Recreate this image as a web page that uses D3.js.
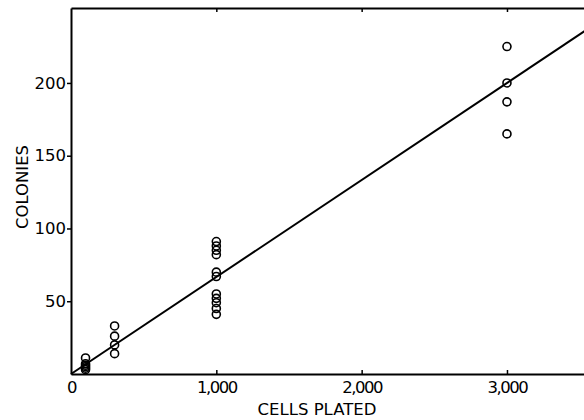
<!DOCTYPE html>
<html>
<head>
<meta charset="utf-8">
<script src="https://cdn.jsdelivr.net/npm/d3@7"></script>
<style>
  body { margin: 0; background: #fff; }
  text { font-family: "DejaVu Sans", sans-serif; fill: #000; }
</style>
</head>
<body>
<div id="chart"></div>
<script>
{
    //Data -- colonies counted per number of cells plated
    const cellsPlated = [100, 300, 1000, 3000];
    const colonies100 = [11, 7, 6, 5, 4, 3];
    const colonies300 = [33, 26, 20, 14];
    const colonies1000 = [91, 88, 85, 82, 70, 67, 55, 52, 49, 45, 41];
    const colonies3000 = [225, 200, 187, 165];
    const fitSlope = 1 / 15;   // fitted line through origin
    const xTicks = [0, 1000, 2000, 3000];
    const yTicks = [50, 100, 150, 200];

    const groups = [colonies100, colonies300, colonies1000, colonies3000];
    const points = [];
    groups.forEach((g, i) => g.forEach(v => points.push({ cells: cellsPlated[i], colonies: v })));

    //Dimensions
    const W = 584, H = 420;
    const margin = { top: 8, left: 71, bottom: 46 };

    const svg = d3.select('#chart')
        .append('svg')
        .attr('width', W)
        .attr('height', H);

    const x = d3.scaleLinear()
        .domain([0, 3530])
        .range([margin.left, W]);

    const y = d3.scaleLinear()
        .domain([0, 251.5])
        .range([H - margin.bottom, margin.top]);

    //Bottom axis
    const xAxis = svg.append('g')
        .attr('transform', 'translate(0,' + y(0) + ')')
        .call(d3.axisBottom(x)
            .tickValues(xTicks)
            .tickSizeInner(-4)
            .tickSizeOuter(0)
            .tickPadding(7)
            .tickFormat(d3.format(',')));
    xAxis.select('.domain').attr('stroke-width', 2);
    xAxis.selectAll('.tick line').attr('stroke-width', 1.5)
        .filter(d => d == 0).remove();
    xAxis.selectAll('.tick text')
        .style('font-size', '16.5px')
        .style('letter-spacing', '-1.5px');

    //Top border with ticks
    const topAxis = svg.append('g')
        .attr('transform', 'translate(0,' + y(251.5) + ')')
        .call(d3.axisTop(x)
            .tickValues(xTicks.slice(1))
            .tickSizeInner(-4)
            .tickSizeOuter(0)
            .tickFormat(''));
    topAxis.select('.domain').attr('stroke-width', 2);
    topAxis.selectAll('.tick line').attr('stroke-width', 1.5);

    //Left axis
    const yAxis = svg.append('g')
        .attr('transform', 'translate(' + x(0) + ',0)')
        .call(d3.axisLeft(y)
            .tickValues(yTicks)
            .tickSizeInner(4)
            .tickSizeOuter(0)
            .tickPadding(1));
    yAxis.select('.domain').attr('stroke-width', 2);
    yAxis.selectAll('.tick line').attr('stroke-width', 1.5);
    yAxis.selectAll('.tick text').style('font-size', '16.5px');

    //Axis labels
    svg.append('text')
        .attr('x', 317)
        .attr('y', 415)
        .attr('text-anchor', 'middle')
        .style('font-size', '16.5px')
        .text('CELLS PLATED');

    svg.append('text')
        .attr('transform', 'translate(28,187) rotate(-90)')
        .attr('text-anchor', 'middle')
        .style('font-size', '16.5px')
        .text('COLONIES');

    //Fitted line
    svg.append('path')
        .datum([0, 3600])
        .attr('d', d3.line().x(d => x(d)).y(d => y(d * fitSlope)))
        .attr('fill', 'none')
        .attr('stroke', '#000')
        .attr('stroke-width', 2);

    //Points
    svg.selectAll('circle.pt')
        .data(points)
        .join('circle')
        .attr('class', 'pt')
        .attr('cx', d => x(d.cells))
        .attr('cy', d => y(d.colonies))
        .attr('r', 4)
        .attr('fill', 'none')
        .attr('stroke', '#000')
        .attr('stroke-width', 1.6);
}
</script>
</body>
</html>
